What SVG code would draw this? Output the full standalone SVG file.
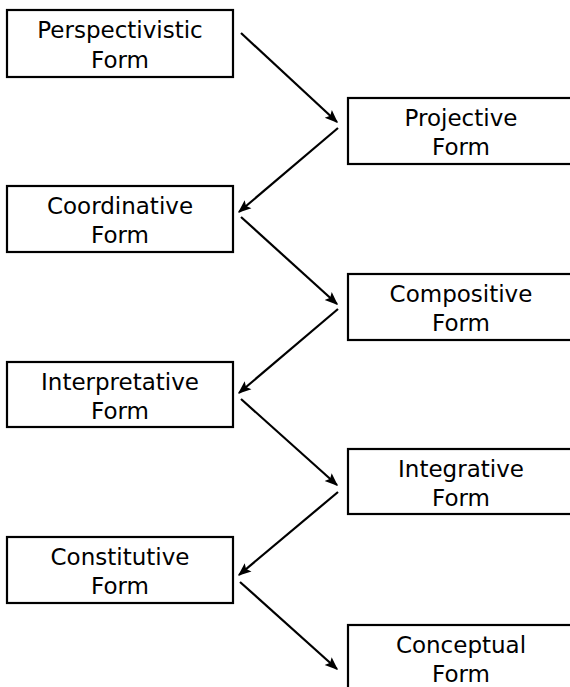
<svg xmlns="http://www.w3.org/2000/svg" width="570" height="687" viewBox="0 0 570 687">
<style>
.box{fill:#fff;stroke:#000;stroke-width:2.2}
.t{font-family:"DejaVu Sans",sans-serif;font-size:23px;fill:#000;text-anchor:middle}
.c{stroke:#000;stroke-width:2.2;fill:none;marker-end:url(#ah)}
</style>
<defs>
<marker id="ah" viewBox="0 0 10 10" refX="9" refY="5" markerWidth="6" markerHeight="6" orient="auto" markerUnits="strokeWidth">
<path d="M0,1 L10,5 L0,9 L2,5 z" fill="#000"/>
</marker>
</defs>
<rect width="570" height="687" fill="#fff"/>
<g id="n1"><rect class="box" x="7" y="10" width="226" height="67"/><text class="t" x="120" y="38">Perspectivistic</text><text class="t" x="120" y="68">Form</text></g>
<g id="n2"><rect class="box" x="348" y="98" width="226" height="66"/><text class="t" x="461" y="126">Projective</text><text class="t" x="461" y="155">Form</text></g>
<g id="n3"><rect class="box" x="7" y="186" width="226" height="66"/><text class="t" x="120" y="214">Coordinative</text><text class="t" x="120" y="243">Form</text></g>
<g id="n4"><rect class="box" x="348" y="274" width="226" height="66"/><text class="t" x="461" y="302">Compositive</text><text class="t" x="461" y="331">Form</text></g>
<g id="n5"><rect class="box" x="7" y="362" width="226" height="65"/><text class="t" x="120" y="390">Interpretative</text><text class="t" x="120" y="419">Form</text></g>
<g id="n6"><rect class="box" x="348" y="449" width="226" height="65"/><text class="t" x="461" y="477">Integrative</text><text class="t" x="461" y="506">Form</text></g>
<g id="n7"><rect class="box" x="7" y="537" width="226" height="66"/><text class="t" x="120" y="565">Constitutive</text><text class="t" x="120" y="594">Form</text></g>
<g id="n8"><rect class="box" x="348" y="625" width="226" height="70"/><text class="t" x="461" y="653">Conceptual</text><text class="t" x="461" y="682">Form</text></g>
<g id="connectors">
<line class="c" x1="241" y1="33" x2="337" y2="122"/>
<line class="c" x1="338" y1="128" x2="239" y2="212"/>
<line class="c" x1="241" y1="217" x2="337" y2="304"/>
<line class="c" x1="338" y1="309" x2="239" y2="393"/>
<line class="c" x1="241" y1="399" x2="337" y2="485"/>
<line class="c" x1="338" y1="492" x2="239" y2="575"/>
<line class="c" x1="240" y1="582" x2="337" y2="669"/>
</g>
</svg>
